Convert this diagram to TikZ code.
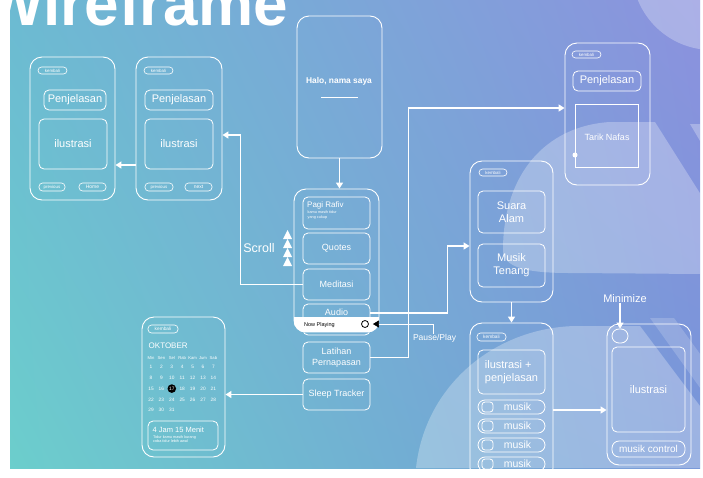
\documentclass[tikz,border=0pt]{standalone}
\usepackage{fontspec}
\setmainfont{Liberation Sans}
\usetikzlibrary{calc,positioning,arrows.meta,shadings}
\definecolor{bgSky}{RGB}{108,186,210}
\definecolor{bgTeal}{RGB}{108,206,204}
\definecolor{bgViolet}{RGB}{140,146,222}
\definecolor{bgBlue}{RGB}{118,150,216}

\tikzset{
  phone/.style={draw=white, line width=0.9pt, rounded corners=12pt, inner sep=0pt},
  box/.style={draw=white, line width=0.8pt, rounded corners=5pt, inner sep=0pt, text=white, align=center},
  pill/.style={draw=white, line width=0.6pt, rounded corners=3.5pt, inner sep=0pt, text=white, font=\fontsize{4.4}{5}\selectfont},
  conn/.style={draw=white, line width=1.7pt, -{Triangle[length=6pt,width=7pt]}},
  lbl/.style={text=white, inner sep=0pt},
  big/.style={font=\fontsize{11}{13}\selectfont},
  mid/.style={font=\fontsize{9}{11}\selectfont},
  tiny/.style={font=\fontsize{3.8}{4.4}\selectfont},
  glow/.style={fill=white, opacity=0.28},
}

\begin{document}
\begin{tikzpicture}[x=1pt,y=-1pt]
\useasboundingbox (0,0) rectangle (703,477);
\begin{scope}
\clip (10,0) rectangle (700,468);
% background
\shade[shading=bilinear interpolation, upper left=bgSky, upper right=bgViolet, lower left=bgTeal, lower right=bgBlue] (10,0) rectangle (700,468);
\fill[glow] (503,250) .. controls (503,175) and (545,126) .. (610,122) -- (655,122) -- (703,198) -- (703,274)
  -- (570,273) .. controls (528,273) and (503,268) .. (503,250) -- cycle;
\fill[glow] (690,124) -- (703,124) -- (703,146) -- cycle;
\fill[glow] (416,468) .. controls (425,385) and (495,328) .. (575,326) -- (640,326) -- (703,410) -- (703,468) -- cycle;
\fill[white, opacity=0.18] (650,318) -- (674,318) -- (703,358) -- (703,392) -- cycle;
\fill[glow] (712,-30) circle (80pt);

\node[lbl, font=\fontsize{62}{66}\selectfont\bfseries, anchor=base west] (title) at (-15,25) {Wireframe};

% penjelasan screens
\node[phone, minimum width=85, minimum height=143] (pOne) at (72.5,128.5) {};
\node[pill, minimum width=29, minimum height=7] (kOne) at (52.5,70.5) {kembali};
\node[box, big, minimum width=62, minimum height=20] (penOne) at (75,100) {Penjelasan};
\node[box, big, minimum width=68, minimum height=50] (iluOne) at (73,144) {ilustrasi};
\node[pill, minimum width=26, minimum height=8] (prevOne) at (52,187) {previous};
\node[pill, minimum width=27, minimum height=8, font=\fontsize{5}{6}\selectfont] (home) at (92.5,187) {Home};

\node[phone, minimum width=86, minimum height=143] (pTwo) at (179,128.5) {};
\node[pill, minimum width=29, minimum height=7] (kTwo) at (158.5,70.5) {kembali};
\node[box, big, minimum width=68, minimum height=20] (penTwo) at (179,100) {Penjelasan};
\node[box, big, minimum width=68, minimum height=50] (iluTwo) at (179,144) {ilustrasi};
\node[pill, minimum width=28, minimum height=8] (prevTwo) at (159,187) {previous};
\node[pill, minimum width=27, minimum height=8, font=\fontsize{5}{6}\selectfont] (next) at (198.5,187) {next};

% welcome screen
\node[phone, minimum width=85, minimum height=142] (pHalo) at (339.5,87) {};
\node[lbl, font=\fontsize{8.4}{10}\selectfont\bfseries] (halo) at (339,81) {Halo, nama saya};
\draw[white, line width=0.8pt] (321,97) -- (358,97);

% home screen
\node[phone, minimum width=85, minimum height=143] (pMenu) at (336.5,260.5) {};
\node[box, minimum width=67, minimum height=32] (pagi) at (336.5,213) {};
\node[lbl, font=\fontsize{8}{9}\selectfont, anchor=west] (pagiTxt) at (307,205.5) {Pagi Rafiv};
\node[lbl, tiny, anchor=north west, align=left] (pagiSub) at (307.5,211) {kamu masih tidur\\yang cukup};
\node[box, mid, minimum width=67, minimum height=31] (quotes) at (336.5,248.5) {Quotes};
\node[box, mid, minimum width=67, minimum height=31] (meditasi) at (336.5,284.5) {Meditasi};
\node[box, minimum width=67, minimum height=31] (audio) at (336.5,319.5) {};
\node[lbl, mid] (audioTxt) at (336.5,312) {Audio};
\begin{scope}
  \clip[rounded corners=12pt] (pMenu.south west) rectangle (pMenu.north east);
  \fill[white] (pMenu.south west) rectangle ([yshift=15pt]pMenu.south east);
\end{scope}
\node[inner sep=0pt, font=\fontsize{5.5}{6}\selectfont, anchor=west] (nowPlay) at (304,325) {Now Playing};
\node[circle, draw=black, fill=white, line width=0.8pt, minimum size=7pt, inner sep=0pt] (npCircle) at (365,324) {};
\node[box, mid, minimum width=67, minimum height=31] (latihan) at (336.5,357.5) {Latihan\\Pernapasan};
\node[box, mid, minimum width=67, minimum height=31] (sleep) at (336.5,394.5) {Sleep Tracker};

\node[lbl, font=\fontsize{12.5}{14}\selectfont] (scroll) at (259,248) {Scroll};
\foreach \t in {230,239,248,257}
  \fill[white] (283,\t+9) -- (287.5,\t) -- (292,\t+9) -- cycle;

% sleep tracker screen
\node[phone, minimum width=83, minimum height=140] (pCal) at (183.5,387) {};
\node[pill, minimum width=30, minimum height=8, font=\fontsize{4.8}{5}\selectfont] (kCal) at (163,329) {kembali};
\node[lbl, font=\fontsize{8}{9}\selectfont, anchor=west] (bulan) at (148.5,346) {OKTOBER};
\foreach \d [count=\i from 0] in {Min,Sen,Sel,Rab,Kam,Jum,Sab}
  \node[lbl, font=\fontsize{4.2}{5}\selectfont] (h\i) at (151+\i*10.4,358) {\d};
\fill[black] (171.8,388.6) circle (4.3pt);
\foreach \n in {1,...,31}{
  \pgfmathtruncatemacro\col{mod(\n-1,7)}
  \pgfmathtruncatemacro\row{(\n-1)/7}
  \node[lbl, font=\fontsize{4.8}{5}\selectfont] (d\n) at (151+\col*10.4,367+\row*10.8) {\n};
}
\node[box, minimum width=70, minimum height=29] (durasi) at (183,435.5) {};
\node[lbl, font=\fontsize{7.5}{9}\selectfont, anchor=west] (jam) at (152.5,430) {4 Jam 15 Menit};
\node[lbl, tiny, anchor=north west, align=left] (saran) at (153,435.5) {Tidur kamu masih kurang\\coba tidur lebih awal};

% audio screens
\node[phone, minimum width=83, minimum height=141] (pMusic) at (511.5,231.5) {};
\node[pill, minimum width=28, minimum height=7] (kMusic) at (493,172.5) {kembali};
\node[box, big, minimum width=67, minimum height=42] (suara) at (511.5,212) {Suara\\Alam};
\node[box, big, minimum width=67, minimum height=43] (tenang) at (511.5,265.5) {Musik\\Tenang};

\node[phone, minimum width=83, minimum height=157] (pList) at (511.5,401.5) {};
\node[pill, minimum width=29, minimum height=8, font=\fontsize{4.8}{5}\selectfont] (kList) at (491.5,337) {kembali};
\node[box, big, minimum width=67, minimum height=44, align=left] (iluPen) at (511.5,372) {ilustrasi +\\penjelasan};
\foreach \y [count=\k] in {407,426,445,464}{
  \node[box, rounded corners=7pt, minimum width=67, minimum height=14] (mus\k) at (511.5,\y) {};
  \node[box, rounded corners=3pt, minimum width=11, minimum height=10] (chk\k) at (487.5,\y) {};
  \node[lbl, font=\fontsize{10.5}{12}\selectfont] (musTxt\k) at (517.5,\y) {musik};
}

\node[phone, minimum width=84, minimum height=141] (pPlay) at (649,394.5) {};
\node[lbl, big] (minimize) at (625,299) {Minimize};
\node[box, rounded corners=7pt, minimum width=16, minimum height=14] (oval) at (620,336) {};
\node[box, big, minimum width=73, minimum height=85] (iluPlay) at (648.5,389.5) {ilustrasi};
\node[box, rounded corners=7pt, font=\fontsize{10}{12}\selectfont, minimum width=73, minimum height=16] (kontrol) at (648.5,449) {musik control};

% breathing screen
\node[phone, minimum width=85, minimum height=142] (pNafas) at (607.5,114) {};
\node[pill, minimum width=29, minimum height=7] (kNafas) at (586.5,54.5) {kembali};
\node[box, big, minimum width=68, minimum height=20] (penNafas) at (607,81) {Penjelasan};
\node[box, rounded corners=0pt, minimum width=63, minimum height=63] (tarik) at (606.5,135.5) {};
\node[lbl, font=\fontsize{9}{11}\selectfont] (tarikTxt) at (607,137) {Tarik Nafas};
\fill[white] (575,155) circle (2.5pt);

% connectors
\draw[conn] ([yshift=-36.5pt]pTwo.west) -- ([yshift=-36.5pt]pOne.east);
\draw[conn] (meditasi.west) -- ++(-62,0) |- ([yshift=-6.5pt]pTwo.east);
\draw[conn] (pHalo.south) -- (pHalo.south |- pMenu.north);
\draw[conn] ([yshift=6.5pt]audio.east) -- ++(77,0) |- ([yshift=-14.5pt]pMusic.west);
\draw[conn] (latihan.east) -- ++(38,0) |- ([yshift=6pt]pNafas.west);
\draw[conn] (sleep.west) -- (sleep.west -| pCal.east);
\draw[conn] (pMusic.south) -- (pList.north);
\draw[conn] ([yshift=-8.5pt]pList.east) -- ([yshift=-8.5pt]pList.east -| pPlay.west);
\draw[conn] (minimize.south -| oval.north) -- (oval.north);

\node[lbl, font=\fontsize{8.5}{10}\selectfont] (pause) at (434.5,338) {Pause/Play};
\draw[white, line width=0.6pt, -{Triangle[length=6pt,width=7pt,black]}, shorten >=4pt] (pause.north -| 433,0) |- (npCircle.east);
\end{scope}
\end{tikzpicture}
\end{document}
